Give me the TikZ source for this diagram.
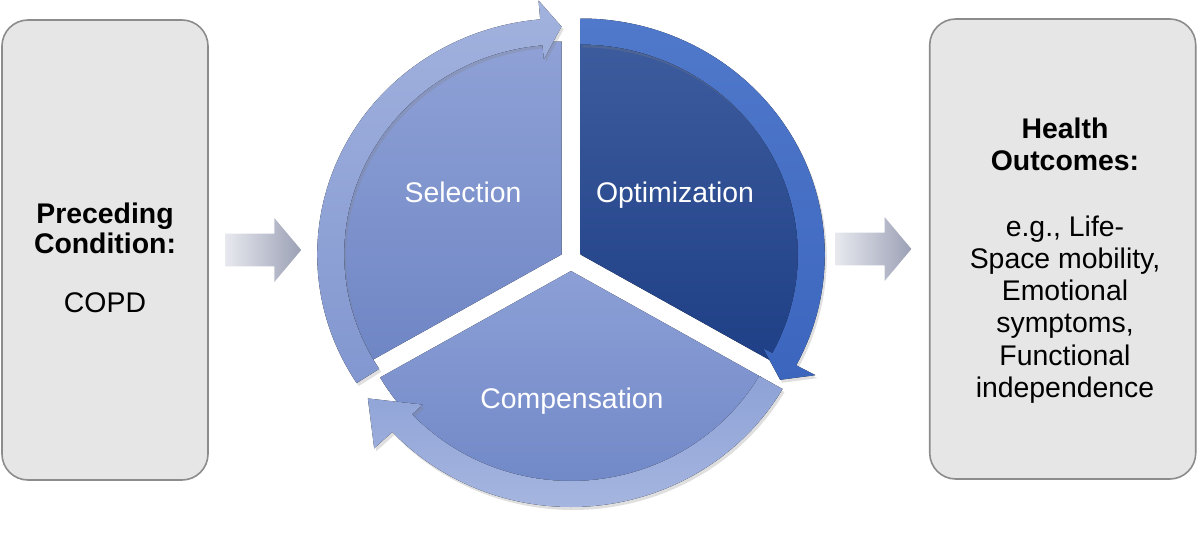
\documentclass[tikz,border=0pt]{standalone}
\usepackage{fontspec}
\setmainfont{Liberation Sans}
\usetikzlibrary{arrows.meta, positioning, shapes.arrows, shadows}

\definecolor{boxgray}{HTML}{E6E6E6}
\definecolor{boxline}{HTML}{8C8C8C}
\definecolor{arrlight}{HTML}{E8E9EF}
\definecolor{arrdark}{HTML}{9BA0B5}
\definecolor{selhi}{HTML}{8FA1D6}
\definecolor{sello}{HTML}{6F86C5}
\definecolor{selringhi}{HTML}{A2B2DE}
\definecolor{selringlo}{HTML}{8297D0}
\definecolor{opthi}{HTML}{3D5C9E}
\definecolor{optlo}{HTML}{1F3F86}
\definecolor{optringhi}{HTML}{5079CB}
\definecolor{optringlo}{HTML}{3C66BE}
\definecolor{comphi}{HTML}{8C9FD6}
\definecolor{complo}{HTML}{6E86C6}
\definecolor{compringhi}{HTML}{8EA2D6}
\definecolor{compringlo}{HTML}{A5B5E0}

\begin{document}
\begin{tikzpicture}[
    x=0.5pt, y=0.5pt,
    cond/.style={draw=boxline, fill=boxgray, line width=0.8pt, rounded corners=13pt, minimum height=230pt},
    txt/.style={align=center, font=\fontsize{14.2}{14.75}\selectfont},
    blk/.style={shape=single arrow, draw=none, minimum height=38pt, inner ysep=8pt, inner xsep=0pt, single arrow head extend=7.75pt, single arrow tip angle=100, single arrow head indent=0pt, left color=arrlight, right color=arrdark},
    lbl/.style={text=white, anchor=base, font=\fontsize{14.2}{17}\selectfont},
    ring/.style={drop shadow={opacity=0.25, shadow xshift=1pt, shadow yshift=-1.5pt}},
    node distance=8pt
]
    \useasboundingbox (0,0) rectangle (1200,542);

    \node[cond, minimum width=103pt] (pre) at (105,292) {};
    \node[txt] (pretxt) at (105,284.3) {\textbf{Preceding}\\\textbf{Condition:}\\[14.75pt]COPD};
    \node[blk, right=of pre] (arrL) {};

    % Selection piece
    \begin{scope}[shift={(561.5,287.5)}, xscale=1.035]
        \fill[top color=selhi, bottom color=sello] (0,0) -- (90:213) arc[start angle=90, end angle=210, radius=213] -- cycle;
        \fill[ring, top color=selringhi, bottom color=selringlo] (213:236) arc[start angle=213, end angle=95, radius=236] -- (95:255) -- (90:228) -- (95:196) -- (95:210) arc[start angle=95, end angle=213, radius=210] -- cycle;
    \end{scope}

    % Optimization piece
    \begin{scope}[shift={(580.5,287.5)}, xscale=1.035]
        \fill[top color=opthi, bottom color=optlo] (0,0) -- (-30:213) arc[start angle=-30, end angle=90, radius=213] -- cycle;
        \fill[ring, top color=optringhi, bottom color=optringlo] (90:236) arc[start angle=90, end angle=-28, radius=236] -- (-28:257) -- (-33:230) -- (-28:200) -- (-28:210) arc[start angle=-28, end angle=90, radius=210] -- cycle;
    \end{scope}

    % Compensation piece
    \begin{scope}[shift={(571,271)}, xscale=1.035]
        \fill[top color=comphi, bottom color=complo] (0,0) -- (210:213) arc[start angle=210, end angle=330, radius=213] -- cycle;
        \fill[ring, top color=compringhi, bottom color=compringlo] (330:236) arc[start angle=330, end angle=223, radius=236] -- (223:260) -- (213:234) -- (223:196) -- (223:210) arc[start angle=223, end angle=330, radius=210] -- cycle;
    \end{scope}

    \node[lbl] (sel)  at (463,339) {Selection};
    \node[lbl] (opt)  at (675,339) {Optimization};
    \node[lbl] (comp) at (572,134) {Compensation};

    \node[blk, anchor=west] (arrR) at (835,293) {};
    \node[cond, minimum width=133pt, right=8.5pt of arrR] (out) {};
    \node[txt, font=\fontsize{14.2}{16.1}\selectfont] (outtxt) at (1065,281.7) {\textbf{Health}\\\textbf{Outcomes:}\\[16.9pt]e.g., Life-\\Space mobility,\\Emotional\\symptoms,\\Functional\\independence};
\end{tikzpicture}
\end{document}
